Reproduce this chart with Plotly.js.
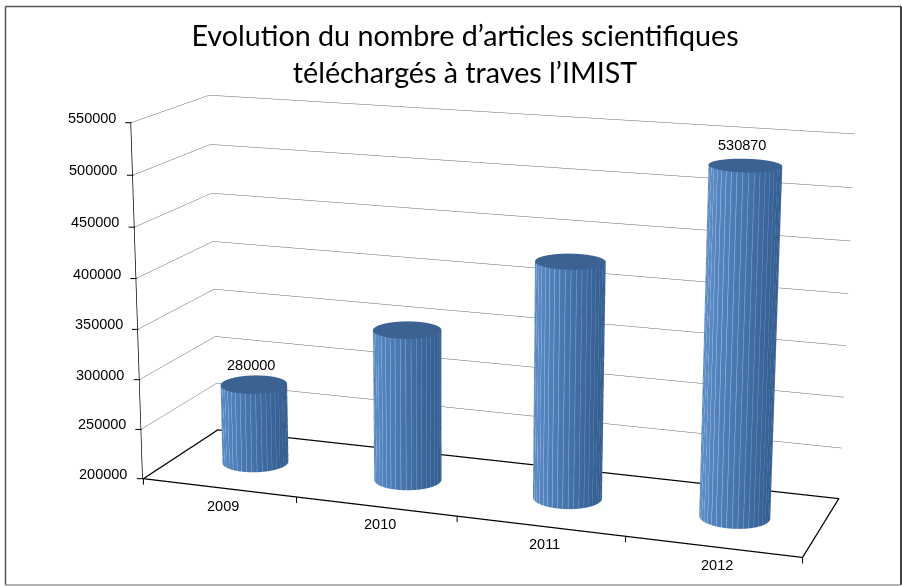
<!DOCTYPE html>
<html><head><meta charset="utf-8"><script src="https://cdn.plot.ly/plotly-3.0.1.min.js"></script>
<style>html,body{margin:0;padding:0;background:#fff;overflow:hidden}
#w{position:absolute;left:0;top:0;width:902px;height:586px;overflow:hidden}
#c{position:absolute;left:-1063px;top:-691px;width:3028px;height:1968px}</style></head><body><div id="w"><div id="c"></div></div>
<script>
const years=['2009','2010','2011','2012'];
const values=[280000,350000,430000,530870];
const labels=['280000','','','530870'];
const zTicks=[200000,250000,300000,350000,400000,450000,500000,550000];
const xTicks=[-0.5,0.5,1.5,2.5,3.5];
const W=3028,H=1968,OX=1063,OY=691;
const shadeScale=[[0,'#2f5583'],[0.3,'#3e6a9e'],[0.6,'#5485c1'],[1,'#b4cbe6']];
const capColor='#3b6291';
const px=x=>(x+OX)/W, py=y=>1-(y+OY)/H;
const labelFont={family:'Liberation Sans',size:14.5,color:'#000'};
function edge(x0,y0,x1,y1,color){return {type:'line',xref:'paper',yref:'paper',x0:px(x0),y0:py(y0),x1:px(x1),y1:py(y1),line:{color,width:1.5}};}
function cyl(i,v){
  const th=[],col=[];
  for(let k=0;k<=360;k++){
    const t=k*Math.PI/180;th.push(t);
    const s=0.9407*Math.cos(t)+0.338*Math.sin(t);
    col.push(0.52-0.27*(s+0.5)+(k%9===0?0.45:0));
  }
  const rx=0.202,ry=0.192;
  const bx=th.map(t=>i+rx*Math.cos(t)),by=th.map(t=>0.5+ry*Math.sin(t));
  return [{type:'surface',x:[bx,bx],y:[by,by],z:[th.map(()=>200000),th.map(()=>v)],surfacecolor:[col,col],cmin:0,cmax:1,colorscale:shadeScale,showscale:false,hoverinfo:'skip',lighting:{ambient:1,diffuse:0,specular:0,fresnel:0,roughness:1}},
   {type:'surface',x:[th.map(()=>i),bx],y:[th.map(()=>0.5),by],z:[th.map(()=>v),th.map(()=>v)],surfacecolor:[th.map(()=>0),th.map(()=>0)],cmin:0,cmax:1,colorscale:[[0,capColor],[1,capColor]],showscale:false,hoverinfo:'skip',lighting:{ambient:1,diffuse:0,specular:0,fresnel:0,roughness:1}}];
}
const traces=[];years.forEach((y,i)=>traces.push(...cyl(i,values[i])));
traces.push({type:'scatter3d',mode:'lines',x:[-0.5,3.5,3.5,-0.5,-0.5],y:[0,0,1,1,0],z:[200000,200000,200000,200000,200000],line:{color:'#000',width:2.5},hoverinfo:'skip'});
const anns=[];
years.forEach((y,i)=>{
  anns.push({x:i,y:0,z:200000,text:y,showarrow:false,xshift:4,yshift:-18,font:labelFont});
  if(labels[i])anns.push({x:i,y:0.5,z:values[i],text:labels[i],showarrow:false,xshift:-3,yshift:20,font:labelFont});
});
zTicks.forEach(z=>{
  anns.push({x:-0.5,y:0,z:z,text:String(z),showarrow:false,xshift:-40,yshift:5,font:labelFont});
  anns.push({x:-0.5,y:0,z:z,text:' ',showarrow:true,arrowhead:0,arrowwidth:1,arrowcolor:'#000',ax:-8,ay:0,standoff:0,font:{size:1}});
});
xTicks.forEach(x=>anns.push({x:x,y:0,z:200000,text:' ',showarrow:true,arrowhead:0,arrowwidth:1,arrowcolor:'#000',ax:0,ay:8,standoff:0,font:{size:1}}));
const layout={width:W,height:H,margin:{l:0,r:0,t:0,b:0},paper_bgcolor:'#fff',showlegend:false,
 title:{text:'Evolution du nombre d’articles scientifiques<br>téléchargés à traves l’IMIST',font:{family:'Lato',size:28.7,color:'#000'},x:px(465),xanchor:'center',y:py(46),yanchor:'middle'},
 shapes:[edge(5.5,6.5,901,6.5,'#555'),edge(5.5,6.5,5.5,585,'#555'),edge(901,6.5,901,585,'#000'),edge(5.5,585,901,585,'#999')],
 scene:{domain:{x:[0,1],y:[0,1]},aspectmode:'manual',aspectratio:{x:1.85,y:0.4866,z:1},
  camera:{eye:{x:1.997,y:-5.850,z:1.5932},center:{x:-0.0957,y:-0.0227,z:0.0498},up:{x:-0.0056,y:-0.002,z:1},projection:{type:'perspective'}},
  annotations:anns,
  xaxis:{title:{text:''},showticklabels:false,range:[-0.504,3.504],showgrid:false,showline:false,zeroline:false,ticks:'',showbackground:false,showspikes:false},
  yaxis:{title:{text:''},showticklabels:false,range:[-0.004,1.004],showgrid:false,showline:false,zeroline:false,ticks:'',showbackground:false,showspikes:false},
  zaxis:{title:{text:''},tickvals:zTicks,showticklabels:false,range:[199700,550000],gridcolor:'#666',gridwidth:1,showline:true,linecolor:'#000',linewidth:1.5,zeroline:false,ticks:'',showbackground:false,showspikes:false}}};
Plotly.newPlot('c',traces,layout,{displayModeBar:false});
</script></body></html>
